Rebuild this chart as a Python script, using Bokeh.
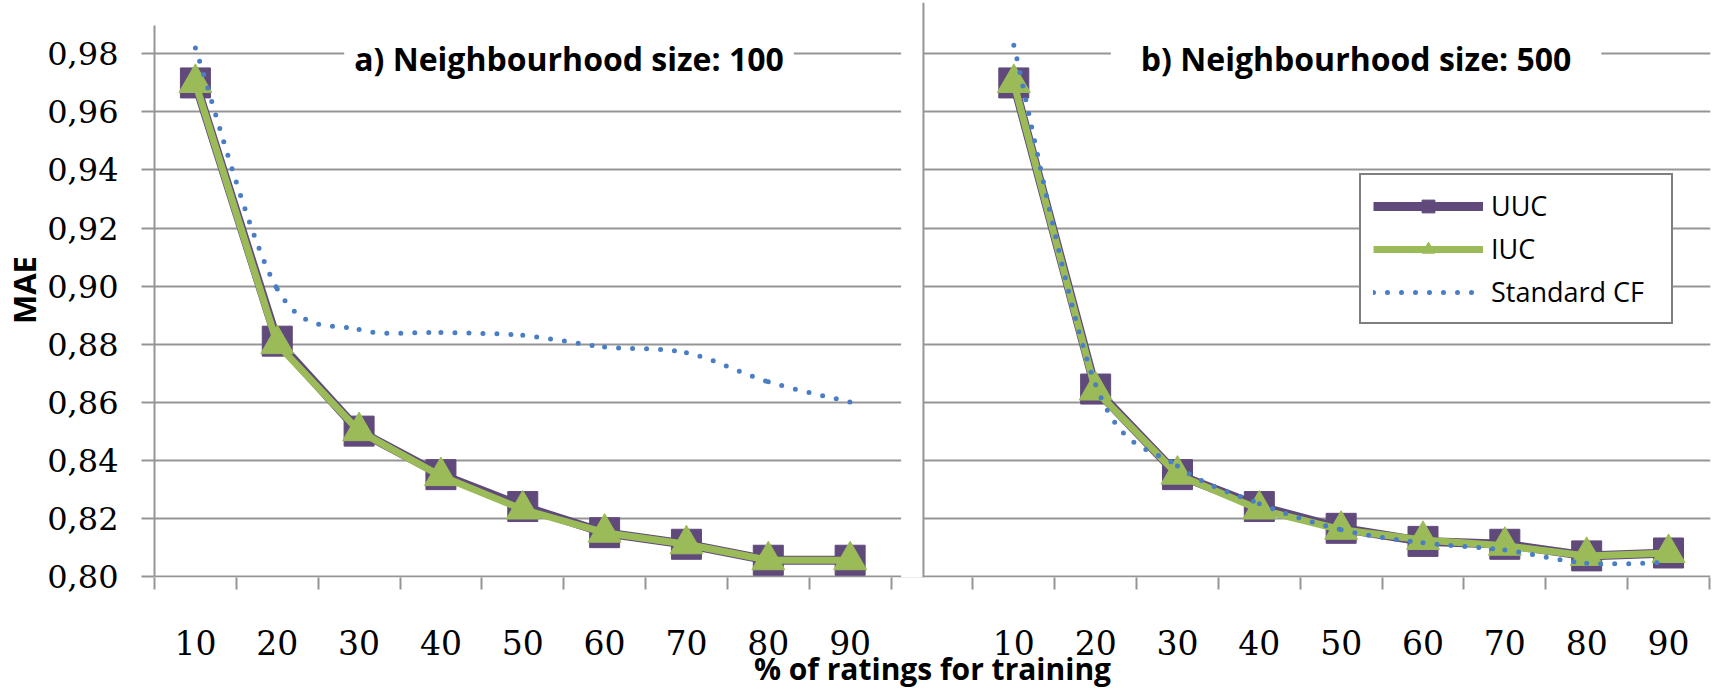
from bokeh.plotting import figure
from bokeh.models import (FixedTicker, Label, Legend, LegendItem, Span,
                          BoxAnnotation, Range1d)
from bokeh.embed import file_html
from bokeh.resources import INLINE

# ---------------- data ----------------
pct_labels = ["10", "20", "30", "40", "50", "60", "70", "80", "90"]

uuc_100 = [0.970, 0.881, 0.850, 0.835, 0.824, 0.815, 0.811, 0.8055, 0.8055]
iuc_100 = [0.970, 0.880, 0.850, 0.8345, 0.823, 0.815, 0.811, 0.8055, 0.8055]
cf_100 = [0.982, 0.899, 0.885, 0.884, 0.883, 0.879, 0.877, 0.867, 0.860]

uuc_500 = [0.970, 0.8645, 0.835, 0.824, 0.8165, 0.812, 0.811, 0.807, 0.808]
iuc_500 = [0.970, 0.864, 0.835, 0.823, 0.816, 0.8125, 0.8105, 0.807, 0.808]
cf_500 = [0.983, 0.866, 0.838, 0.825, 0.816, 0.8115, 0.809, 0.8045, 0.8048]

y_ticks = [0.80, 0.82, 0.84, 0.86, 0.88, 0.90, 0.92, 0.94, 0.96, 0.98]
y_tick_labels = ["0,80", "0,82", "0,84", "0,86", "0,88", "0,90", "0,92",
                 "0,94", "0,96", "0,98"]

panel_titles = ["a) Neighbourhood size: 100", "b) Neighbourhood size: 500"]
series_names = ["UUC", "IUC", "Standard CF"]
x_title = "% of ratings for training"
y_title = "MAE"

# ---------------- style ----------------
PURPLE = "#604A7B"
GREEN = "#9BBB59"
BLUE = "#4A7EC4"
GREY = "#959595"
PANEL_OFFSET = 10          # category units from left panel to right panel
n = len(pct_labels)

p = figure(width=1717, height=691, output_backend="svg", toolbar_location=None,
           x_range=Range1d(0, 19.013), y_range=Range1d(0.79955, 0.99772),
           min_border_left=149, min_border_right=7, min_border_top=2,
           min_border_bottom=111, background_fill_color="white",
           border_fill_color="white")
p.outline_line_color = None
p.xgrid.visible = False
p.ygrid.ticker = FixedTicker(ticks=y_ticks)
p.ygrid.grid_line_color = GREY
p.ygrid.grid_line_width = 2

# y axis
ya = p.yaxis[0]
ya.ticker = FixedTicker(ticks=y_ticks)
ya.major_label_overrides = dict(zip(y_ticks, y_tick_labels))
ya.bounds = (0.80, 0.98974)
ya.axis_line_color = GREY
ya.axis_line_width = 2
ya.major_tick_line_color = GREY
ya.major_tick_line_width = 2
ya.major_tick_out = 13
ya.major_tick_in = 0
ya.minor_tick_line_color = None
ya.major_label_standoff = 23
ya.major_label_text_font = "DejaVu Serif"
ya.major_label_text_font_size = "32px"
ya.major_label_text_color = "black"
ya.axis_label = y_title
ya.axis_label_text_font = "Open Sans"
ya.axis_label_text_font_style = "bold"
ya.axis_label_text_font_size = "31px"
ya.axis_label_text_color = "black"
ya.axis_label_standoff = -1

# x axis: labels at category centres, tick marks at category boundaries
x_centres = ([i + 0.5 for i in range(n)] +
             [PANEL_OFFSET + i + 0.5 for i in range(n)])
x_bounds = list(range(n + 1)) + [PANEL_OFFSET + i for i in range(n + 1)]
xa = p.xaxis[0]
xa.ticker = FixedTicker(ticks=x_centres, minor_ticks=x_bounds)
xa.major_label_overrides = dict(zip(x_centres, pct_labels * 2))
xa.axis_line_color = None
xa.major_tick_line_color = None
xa.major_tick_out = 0
xa.major_tick_in = 0
xa.minor_tick_line_color = GREY
xa.minor_tick_line_width = 2
xa.minor_tick_out = 12
xa.minor_tick_in = 0
xa.major_label_standoff = 40
xa.major_label_text_font = "DejaVu Serif"
xa.major_label_text_font_size = "33px"
xa.major_label_text_color = "black"
xa.axis_label = x_title
xa.axis_label_text_font = "Open Sans"
xa.axis_label_text_font_style = "bold"
xa.axis_label_text_font_size = "30px"
xa.axis_label_text_color = "black"
xa.axis_label_standoff = -10

# gap between the two panels and the right panel's vertical line
p.add_layout(BoxAnnotation(left=9.123, right=9.396, fill_color="white",
                           fill_alpha=1, line_color=None))
p.add_layout(Span(location=9.396, dimension="height", line_color=GREY,
                  line_width=2))


def smooth_segments(xs, ys):
    """Cubic Bezier segments through the points (Excel-style smoothing)."""
    seg = dict(x0=[], y0=[], x1=[], y1=[], cx0=[], cy0=[], cx1=[], cy1=[])
    m = len(xs)
    for i in range(m - 1):
        a = i - 1 if i > 0 else i
        d = i + 2 if i + 2 < m else i + 1
        seg["x0"].append(xs[i]); seg["y0"].append(ys[i])
        seg["x1"].append(xs[i + 1]); seg["y1"].append(ys[i + 1])
        seg["cx0"].append(xs[i] + (xs[i + 1] - xs[a]) / 6)
        seg["cy0"].append(ys[i] + (ys[i + 1] - ys[a]) / 6)
        seg["cx1"].append(xs[i + 1] - (xs[d] - xs[i]) / 6)
        seg["cy1"].append(ys[i + 1] - (ys[d] - ys[i]) / 6)
    return seg


legend_renderers = None
for k, (off, uuc, iuc, cf) in enumerate([(0, uuc_100, iuc_100, cf_100),
                                          (PANEL_OFFSET, uuc_500, iuc_500, cf_500)]):
    xs = [off + i + 0.5 for i in range(n)]
    l1 = p.line(xs, uuc, line_color=PURPLE, line_width=9, line_join="round")
    m1 = p.scatter(xs, uuc, marker="square", size=30, fill_color=PURPLE,
                   line_color=PURPLE)
    l2 = p.line(xs, iuc, line_color=GREEN, line_width=7, line_join="round")
    m2 = p.scatter(xs, iuc, marker="triangle", size=33, fill_color=GREEN,
                   line_color=GREEN)
    seg = smooth_segments(xs, cf)
    b = p.bezier(x0=seg["x0"], y0=seg["y0"], x1=seg["x1"], y1=seg["y1"],
                 cx0=seg["cx0"], cy0=seg["cy0"], cx1=seg["cx1"], cy1=seg["cy1"],
                 line_color=BLUE, line_width=5, line_dash="0 14",
                 line_cap="round")
    if legend_renderers is None:
        legend_renderers = ([l1, m1], [l2, m2], [b])

# panel titles
p.add_layout(Label(x=5.065, y=0.9785, text=panel_titles[0], text_align="center",
                   text_baseline="middle", text_font="Open Sans",
                   text_font_style="bold", text_font_size="32px",
                   text_color="black", background_fill_color="white",
                   background_fill_alpha=1, padding=10))
p.add_layout(Label(x=14.683, y=0.9785, text=panel_titles[1], text_align="center",
                   text_baseline="middle", text_font="Open Sans",
                   text_font_style="bold", text_font_size="32px",
                   text_color="black", background_fill_color="white",
                   background_fill_alpha=1, padding=(30, 6)))

legend = Legend(items=[LegendItem(label=name, renderers=r)
                       for name, r in zip(series_names, legend_renderers)],
                location=(1205, 253), margin=0, padding=12, spacing=6,
                glyph_width=110, glyph_height=32, label_standoff=8,
                label_width=168, border_line_color="black",
                border_line_width=2, background_fill_color="white",
                background_fill_alpha=1, label_text_font="Open Sans",
                label_text_font_size="27px", label_text_color="black")
p.add_layout(legend)

open("out.html", "w").write(file_html(p, INLINE))
